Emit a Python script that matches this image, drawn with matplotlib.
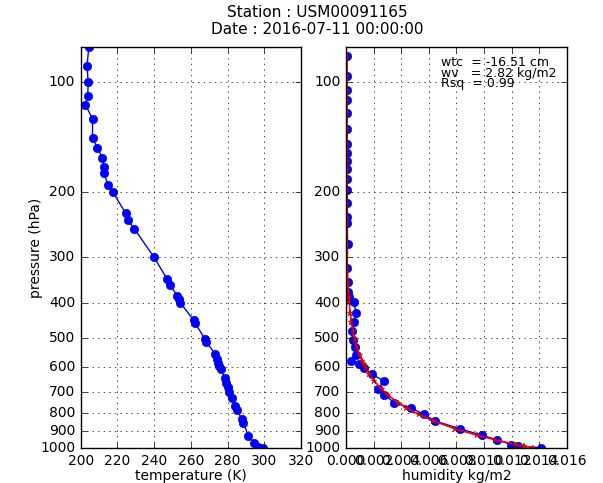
import matplotlib
matplotlib.use('Agg')
import matplotlib.pyplot as plt
from matplotlib.ticker import FixedLocator, NullLocator, FormatStrFormatter, ScalarFormatter

# Temperature profile (pressure hPa, temperature K)
pres_t = [80, 90, 100, 109, 115, 126, 142, 151, 161, 170, 177, 191, 200,
          228, 238, 251, 300, 345, 357, 384, 391, 400, 447, 454, 502, 511,
          551, 569, 586, 597, 606, 643, 664, 682, 701, 729, 765, 788, 834,
          852, 924, 967, 990, 1000]
temp = [204.4, 203.4, 204.0, 203.8, 202.5, 206.4, 206.4, 209.1, 211.8, 212.5,
        212.5, 214.9, 217.6, 224.5, 225.6, 229.1, 239.8, 247.1, 248.6, 252.7,
        253.5, 254.2, 261.6, 262.2, 267.6, 268.2, 273.1, 274.4, 274.9, 275.5,
        276.2, 278.5, 279.3, 280.0, 280.7, 282.7, 284.0, 285.1, 288.0, 288.7,
        291.3, 294.5, 296.5, 299.5]

# Humidity profile (observed and fitted)
pres_q = [85, 96, 105, 112, 121, 134, 147, 156, 164, 173, 184, 197, 214, 234,
          243, 277, 322, 352, 375, 387, 398, 427, 452, 478, 507, 529, 555,
          577, 590, 603, 628, 654, 690, 714, 750, 775, 808, 842, 885, 921,
          948, 977, 987, 997]
hum_obs = [0.00006, 0.00006, 0.00006, 0.00006, 0.00007, 0.00007, 0.00007,
           0.00007, 0.00007, 0.00008, 0.00008, 0.00008, 0.00009, 0.00009,
           0.00009, 0.00011, 0.00008, 0.00010, 0.00010, 0.00020, 0.00056,
           0.00072, 0.00056, 0.00043, 0.00049, 0.00067, 0.00072, 0.00038,
           0.00096, 0.00128, 0.00185, 0.00272, 0.00232, 0.00275, 0.00348,
           0.00467, 0.00561, 0.00644, 0.00825, 0.00982, 0.01093, 0.01195,
           0.01247, 0.01412]
hum_fit = [0.00005, 0.00005, 0.00005, 0.00005, 0.00005, 0.00005, 0.00005,
           0.00005, 0.00005, 0.00005, 0.00005, 0.00005, 0.00005, 0.00005,
           0.00006, 0.00007, 0.000084, 0.000125, 0.000166, 0.000192, 0.000216,
           0.000297, 0.000385, 0.00049, 0.00064, 0.00078, 0.00097, 0.00115,
           0.00127, 0.00141, 0.00169, 0.00203, 0.00258, 0.0030, 0.00375,
           0.00435, 0.00525, 0.00632, 0.0079, 0.00946, 0.01078, 0.01233,
           0.0129, 0.01352]

station = 'USM00091165'
date = '2016-07-11 00:00:00'
wtc = -16.51
wv = 2.82
rsq = 0.99

plt.style.use('classic')
plt.rcParams['figure.facecolor'] = 'white'
plt.rcParams['savefig.facecolor'] = 'white'
plt.rcParams['xtick.labelsize'] = 10
plt.rcParams['ytick.labelsize'] = 10

fig = plt.figure(figsize=(6.03, 4.83), dpi=100)
ax1 = fig.add_axes([0.134, 0.072, 0.365, 0.831])
ax2 = fig.add_axes([0.574, 0.072, 0.366, 0.831], sharey=ax1)

ax1.plot(temp, pres_t, 'b-o', markersize=6, markeredgecolor='b')
ax1.set_xlim(200, 320)
ax1.set_xlabel('temperature (K)', fontsize=10, labelpad=1)
ax1.set_ylabel('pressure (hPa)', fontsize=10, labelpad=-2)

ax2.plot(hum_obs, pres_q, 'b-o', markersize=6, markeredgecolor='b')
ax2.plot(hum_fit, pres_q, color='r', linestyle='-', linewidth=1.2,
         marker='*', markersize=5, markerfacecolor='r',
         markeredgecolor='darkred', markeredgewidth=0.3)
ax2.set_xlim(0, 0.016)
ax2.xaxis.set_major_locator(FixedLocator([i * 0.002 for i in range(9)]))
ax2.xaxis.set_major_formatter(FormatStrFormatter('%.3f'))
ax2.set_xlabel('humidity kg/m2', fontsize=10, labelpad=1)

ax1.set_yscale('log')
ax1.set_ylim(1000, 80)
for ax in (ax1, ax2):
    ax.yaxis.set_major_locator(FixedLocator(range(100, 1001, 100)))
    ax.yaxis.set_major_formatter(ScalarFormatter())
    ax.yaxis.set_minor_locator(NullLocator())
    ax.grid(True)

ax2.text(0.43, 0.96, 'wtc  = %.2f cm' % wtc, transform=ax2.transAxes,
         fontsize=9, va='center')
ax2.text(0.43, 0.934, 'wv   = %.2f kg/m2' % wv, transform=ax2.transAxes,
         fontsize=9, va='center')
ax2.text(0.43, 0.908, 'Rsq  = %.2f' % rsq, transform=ax2.transAxes,
         fontsize=9, va='center')

fig.suptitle('Station : ' + station + '\nDate : ' + date, x=0.526, y=0.99,
             fontsize=11)

fig.savefig('out.png', dpi=100)
